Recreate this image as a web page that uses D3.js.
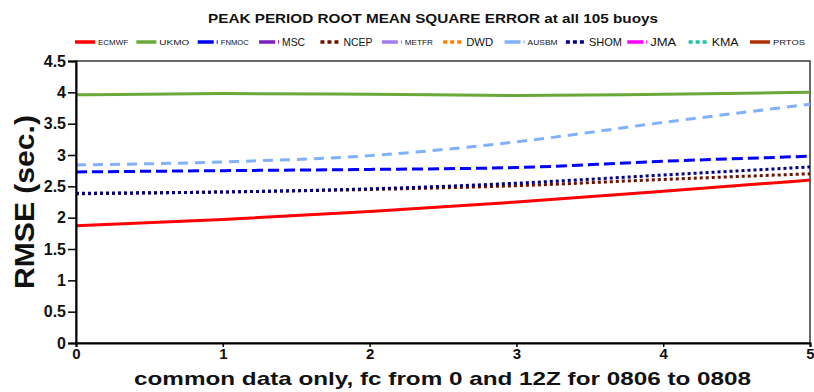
<!DOCTYPE html>
<html>
<head>
<meta charset="utf-8">
<script src="https://cdn.jsdelivr.net/npm/d3@7"></script>
<style>
  html, body { margin: 0; padding: 0; background: #fff; }
  svg { display: block; font-family: "Liberation Sans", Arial, sans-serif; }
</style>
</head>
<body>
<svg id="chart" width="814" height="392"></svg>
<script>
// Forecast day (x) and RMSE values (seconds) per centre
const forecastDays = [0, 1, 2, 3, 4, 5];
const xTickLabels = ["0", "1", "2", "3", "4", "5"];
const yTickValues = [0, 0.5, 1, 1.5, 2, 2.5, 3, 3.5, 4, 4.5];
const yTickLabels = ["0", "0.5", "1", "1.5", "2", "2.5", "3", "3.5", "4", "4.5"];

const centres = ["ECMWF", "UKMO", "FNMOC", "MSC", "NCEP", "METFR", "DWD", "AUSBM", "SHOM", "JMA", "KMA", "PRTOS"];

const ecmwf = [1.87, 1.97, 2.10, 2.25, 2.42, 2.60];
const ukmo  = [3.96, 3.98, 3.97, 3.95, 3.97, 4.00];
const fnmoc = [2.73, 2.75, 2.77, 2.80, 2.90, 2.98];
const msc   = [];
const ncep  = [2.38, 2.41, 2.45, 2.51, 2.61, 2.70];
const metfr = [];
const dwd   = [];
const ausbm = [2.84, 2.89, 2.99, 3.21, 3.52, 3.81];
const shom  = [2.39, 2.41, 2.46, 2.55, 2.68, 2.81];
const jma   = [];
const kma   = [];
const prtos = [];

const seriesValues = [ecmwf, ukmo, fnmoc, msc, ncep, metfr, dwd, ausbm, shom, jma, kma, prtos];

// Line styling per centre
const colors = ["#ff0000", "#6aa83a", "#0000ff", "#7a1fbf", "#6b1200", "#a57af0",
                "#ff8000", "#80b0ff", "#000080", "#ff00ff", "#20c0a8", "#b03000"];
const dashes = [null, null, "11,5", "16,3", "3,3", "16,3", "4,3", "10,7", "3,3", "16,3", "5,3", null];
const legendDashes = [null, null, "16,3", "16,3", "4,3", "16,3", "4,3", "16,3", "4,3", "16,3", "4,3", null];
const labelSizes = [7, 7, 7, 11, 11, 7, 11, 7, 11, 11, 11, 7];
const labelWidths = [30, 30, 28, 23, 29, 28, 27, 30, 33, 26, 27, 32];

const svg = d3.select("#chart");
const W = 814, H = 392;
const margin = { left: 76, right: W - 810, top: 61, bottom: H - 343 };

const x = d3.scaleLinear().domain([0, 5]).range([margin.left, W - margin.right]);
const y = d3.scaleLinear().domain([0, 4.5]).range([H - margin.bottom, margin.top]);

// Plot frame (top/right in grey)
svg.append("rect")
  .attr("x", x(0)).attr("y", y(4.5))
  .attr("width", x(5) - x(0)).attr("height", y(0) - y(4.5))
  .attr("fill", "none").attr("stroke", "#444").attr("stroke-width", 1.6);

// Series lines
const line = d3.line()
  .x((d, i) => x(forecastDays[i]))
  .y(d => y(d))
  .curve(d3.curveMonotoneX);

const drawOrder = [1, 7, 2, 4, 8, 0];
drawOrder.forEach(i => {
  const vals = seriesValues[i];
  if (!vals.length) return;
  svg.append("path")
    .datum(vals)
    .attr("d", line)
    .attr("fill", "none")
    .attr("stroke", colors[i])
    .attr("stroke-width", 3)
    .attr("stroke-dasharray", dashes[i]);
});

// Y axis
const yAxis = d3.axisLeft(y)
  .tickValues(yTickValues)
  .tickFormat((d, i) => yTickLabels[i])
  .tickSize(8).tickPadding(2);
const gy = svg.append("g").attr("transform", `translate(${x(0)},0)`).call(yAxis);
gy.select(".domain").attr("stroke", "#000").attr("stroke-width", 2);
gy.selectAll(".tick line").attr("stroke", "#000").attr("stroke-width", 1.5);
gy.selectAll(".tick text")
  .attr("font-size", 16).attr("font-weight", "bold").attr("fill", "#111")
  .attr("font-family", "Liberation Sans, Arial, sans-serif");

// X axis
const xAxis = d3.axisBottom(x)
  .tickValues(forecastDays)
  .tickFormat((d, i) => xTickLabels[i])
  .tickSize(4).tickPadding(1);
const gx = svg.append("g").attr("transform", `translate(0,${y(0)})`).call(xAxis);
gx.select(".domain").attr("stroke", "#000").attr("stroke-width", 2);
gx.selectAll(".tick line").attr("stroke", "#000").attr("stroke-width", 1.5);
gx.selectAll(".tick text")
  .attr("font-size", 15).attr("font-weight", "bold").attr("fill", "#111")
  .attr("font-family", "Liberation Sans, Arial, sans-serif");

// Axis titles
svg.append("text")
  .attr("transform", `translate(34,${(115 + 289) / 2}) rotate(-90)`)
  .attr("text-anchor", "middle")
  .attr("font-size", 27).attr("font-weight", "bold").attr("fill", "#111")
  .attr("textLength", 174).attr("lengthAdjust", "spacingAndGlyphs")
  .text("RMSE (sec.)");

svg.append("text")
  .attr("x", 134).attr("y", 385)
  .attr("font-size", 19).attr("fill", "#111")
  .attr("textLength", 617).attr("lengthAdjust", "spacingAndGlyphs")
  .style("font-weight", 600)
  .text("common data only, fc from 0 and 12Z for 0806 to 0808");

// Title
svg.append("text")
  .attr("x", 208).attr("y", 23)
  .attr("font-size", 13).attr("font-weight", "bold").attr("fill", "#111")
  .attr("textLength", 450).attr("lengthAdjust", "spacingAndGlyphs")
  .text("PEAK PERIOD ROOT MEAN SQUARE ERROR at all  105 buoys");

// Legend
const legendX = d3.scaleLinear().domain([0, centres.length - 1]).range([75, 750]);
const legendY = 42;
const lg = svg.append("g").selectAll("g").data(centres).join("g")
  .attr("transform", (d, i) => `translate(${legendX(i)},${legendY})`);
lg.append("line")
  .attr("x1", 0).attr("x2", 20).attr("y1", 0).attr("y2", 0)
  .attr("stroke", (d, i) => colors[i])
  .attr("stroke-width", 3.5)
  .attr("stroke-dasharray", (d, i) => legendDashes[i]);
lg.append("text")
  .attr("x", 23).attr("y", (d, i) => labelSizes[i] > 8 ? 4 : 2.5)
  .attr("font-size", (d, i) => labelSizes[i])
  .attr("fill", "#111")
  .attr("textLength", (d, i) => labelWidths[i])
  .attr("lengthAdjust", "spacingAndGlyphs")
  .text(d => d);
</script>
</body>
</html>
